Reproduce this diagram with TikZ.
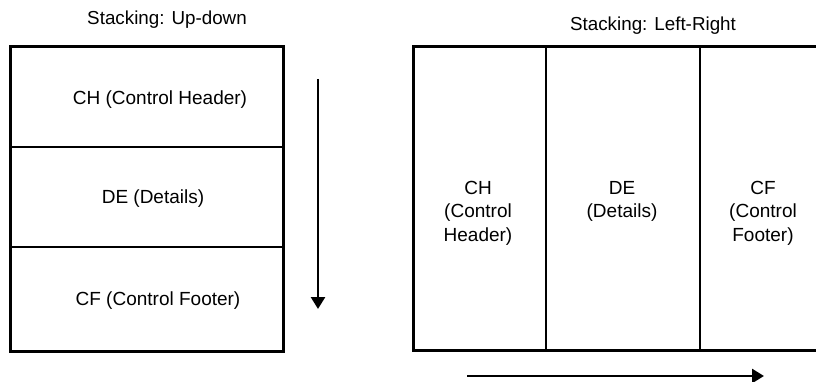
\documentclass[tikz,border=0pt]{standalone}
\usepackage{fontspec}
\setmainfont{Liberation Sans}
\usetikzlibrary{arrows.meta}
\begin{document}
\begin{tikzpicture}[x=1pt,y=-1pt,
  lbl/.style={font=\fontsize{19}{23.5}\selectfont, inner sep=0pt, align=center},
  ttl/.style={font=\fontsize{18.8}{22}\selectfont, inner sep=0pt},
  outer/.style={draw, line width=3pt},
  divider/.style={line width=2.2pt},
  flow/.style={line width=2.6pt, -{Triangle[width=14pt,length=12pt]}}]
\clip (0,0) rectangle (816,382);
\fill[white] (0,0) rectangle (816,382);

% up-down stacking
\node[ttl] (t1) at (167,20) {Stacking: Up-down};
\coordinate (l1) at (10,47);
\coordinate (l2) at (283,351);
\draw[outer] (l1) rectangle (l2);
\coordinate (la) at (10,147);
\coordinate (lb) at (283,147);
\coordinate (lc) at (10,247);
\coordinate (ld) at (283,247);
\draw[divider] (la) -- (lb);
\draw[divider] (lc) -- (ld);
\node[lbl] (ch1) at (160,100) {CH (Control Header)};
\node[lbl] (de1) at (153,199) {DE (Details)};
\node[lbl] (cf1) at (158,301) {CF (Control Footer)};
\coordinate (d0) at (318,79);
\coordinate (d1) at (318,309);
\draw[flow] (d0) -- (d1);

% left-right stacking
\node[ttl] (t2) at (653,26) {Stacking: Left-Right};
\coordinate (r1) at (413,47);
\coordinate (r2) at (840,350);
\draw[outer] (r1) rectangle (r2);
\coordinate (ra) at (546,47);
\coordinate (rb) at (546,350);
\coordinate (rc) at (700,47);
\coordinate (rd) at (700,350);
\draw[divider] (ra) -- (rb);
\draw[divider] (rc) -- (rd);
\node[lbl, anchor=north] (ch2) at (478,181) {CH\\(Control\\Header)};
\node[lbl, anchor=north] (de2) at (622,181) {DE\\(Details)};
\node[lbl, anchor=north] (cf2) at (763,181) {CF\\(Control\\Footer)};
\coordinate (h0) at (467,376);
\coordinate (h1) at (764,376);
\draw[flow] (h0) -- (h1);
\end{tikzpicture}
\end{document}
